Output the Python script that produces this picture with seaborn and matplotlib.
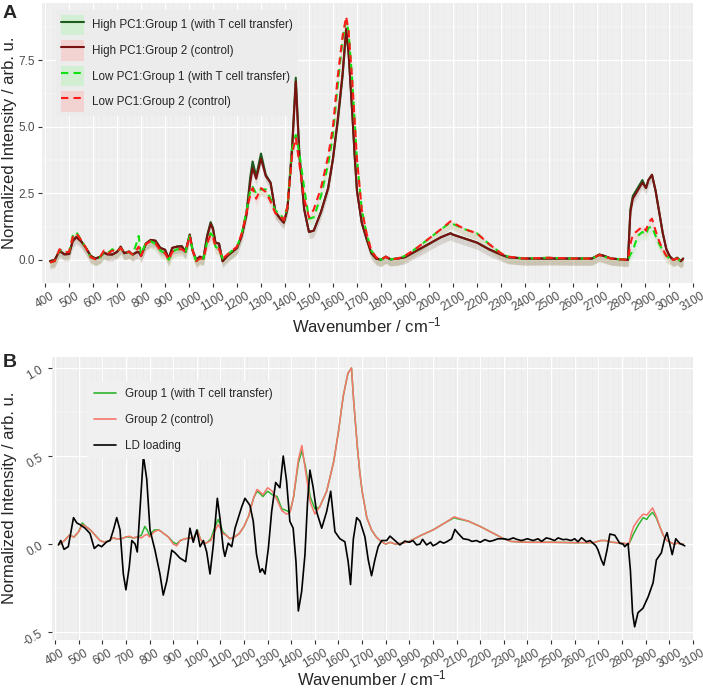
import numpy as np
import pandas as pd
import seaborn as sns
import matplotlib.pyplot as plt
from matplotlib.lines import Line2D
from matplotlib.patches import Patch
from matplotlib.legend_handler import HandlerTuple
from matplotlib.ticker import MultipleLocator, FormatStrFormatter

# wavenumber grid shared by the mean spectra (panel A and the means of panel B)
wn = [
    420, 440, 460, 480, 500, 515, 530, 550, 570, 590,
    610, 630, 645, 660, 680, 700, 715, 730, 750, 765,
    780, 790, 800, 820, 840, 860, 880, 900, 915, 930,
    950, 970, 985, 1003, 1015, 1030, 1045, 1060, 1075, 1090,
    1100, 1110, 1125, 1140, 1160, 1180, 1200, 1220, 1240, 1255,
    1265, 1280, 1300, 1320, 1340, 1360, 1380, 1395, 1410, 1430,
    1445, 1460, 1480, 1500, 1520, 1550, 1580, 1600, 1620, 1640,
    1655, 1665, 1680, 1690, 1700, 1720, 1740, 1760, 1780, 1800,
    1820, 1840, 1870, 1900, 1950, 2000, 2050, 2090, 2100, 2150,
    2200, 2250, 2300, 2330, 2400, 2500, 2600, 2680, 2710, 2730,
    2760, 2800, 2830, 2840, 2850, 2870, 2890, 2905, 2915, 2930,
    2945, 2960, 2975, 2990, 3005, 3020, 3035, 3050, 3060,
]

# panel A - high PC1 score spectra
hi_g1 = [
    -0.05, 0.0, 0.33, 0.22, 0.22, 0.72, 0.87, 0.7, 0.45, 0.15,
    0.05, 0.12, 0.26, 0.22, 0.2, 0.3, 0.48, 0.25, 0.3, 0.2,
    0.28, 0.3, 0.15, 0.62, 0.75, 0.72, 0.45, 0.38, 0.05, 0.45,
    0.5, 0.52, 0.3, 0.95, 0.35, 0.0, 0.12, 0.05, 0.9, 1.42,
    1.2, 0.65, 0.62, -0.05, 0.15, 0.3, 0.45, 0.95, 1.8, 3.1,
    3.7, 3.15, 4.0, 3.2, 2.9, 1.8, 1.55, 1.4, 1.9, 4.3,
    6.85, 4.0, 1.9, 1.05, 1.1, 1.8, 2.7, 3.8, 5.2, 6.9,
    8.6, 7.8, 5.6, 4.0, 2.6, 1.4, 0.8, 0.25, 0.05, 0.0,
    0.12, 0.02, 0.05, 0.1, 0.35, 0.6, 0.85, 1.0, 0.95, 0.8,
    0.65, 0.4, 0.2, 0.1, 0.05, 0.05, 0.05, 0.05, 0.2, 0.15,
    0.05, 0.02, 0.0, 1.9, 2.4, 2.7, 3.0, 2.7, 3.0, 3.2,
    2.6, 1.8, 1.0, 0.4, 0.12, 0.0, 0.08, -0.05, 0.05,
]
hi_g2 = [
    -0.05, 0.0, 0.35, 0.2, 0.22, 0.7, 0.85, 0.7, 0.45, 0.15,
    0.05, 0.12, 0.28, 0.2, 0.2, 0.3, 0.5, 0.25, 0.32, 0.2,
    0.28, 0.3, 0.15, 0.6, 0.75, 0.72, 0.45, 0.38, 0.05, 0.45,
    0.5, 0.5, 0.3, 0.95, 0.35, 0.0, 0.12, 0.05, 0.85, 1.35,
    1.15, 0.65, 0.6, -0.05, 0.15, 0.3, 0.45, 0.9, 1.7, 2.9,
    3.45, 3.05, 3.8, 3.15, 2.9, 1.8, 1.55, 1.4, 1.9, 4.2,
    6.7, 3.9, 1.9, 1.05, 1.1, 1.8, 2.7, 3.8, 5.3, 7.0,
    8.7, 7.8, 5.6, 4.0, 2.6, 1.4, 0.8, 0.25, 0.05, 0.0,
    0.12, 0.02, 0.05, 0.1, 0.35, 0.6, 0.85, 1.0, 0.95, 0.8,
    0.65, 0.4, 0.2, 0.1, 0.05, 0.05, 0.05, 0.05, 0.2, 0.15,
    0.05, 0.02, 0.0, 1.8, 2.3, 2.6, 2.9, 2.7, 3.0, 3.2,
    2.6, 1.8, 1.0, 0.4, 0.12, 0.0, 0.08, -0.05, 0.05,
]
# panel A - low PC1 score spectra
lo_g1 = [
    -0.1, -0.05, 0.38, 0.3, 0.3, 0.9, 1.05, 0.75, 0.45, 0.1,
    0.02, 0.1, 0.3, 0.25, 0.4, 0.3, 0.45, 0.25, 0.3, 0.2,
    0.6, 0.9, 0.2, 0.65, 0.7, 0.6, 0.35, 0.25, 0.0, 0.3,
    0.4, 0.4, 0.3, 0.9, 0.35, -0.05, 0.05, 0.05, 0.65, 1.0,
    0.9, 0.5, 0.4, 0.05, 0.2, 0.35, 0.5, 1.0, 1.85, 2.6,
    2.75, 2.5, 2.65, 2.65, 2.3, 1.85, 1.75, 1.5, 2.0, 4.2,
    4.7, 4.0, 2.7, 1.55, 1.6, 2.4, 3.6, 4.7, 6.6, 8.3,
    9.0, 8.6, 6.8, 5.3, 3.8, 1.9, 1.0, 0.35, 0.1, 0.0,
    0.12, 0.02, 0.05, 0.15, 0.45, 0.8, 1.15, 1.4, 1.35, 1.15,
    1.0, 0.6, 0.25, 0.12, 0.05, 0.08, 0.05, 0.05, 0.18, 0.12,
    0.05, 0.02, 0.0, 0.2, 0.35, 0.9, 1.05, 0.95, 1.2, 1.25,
    0.9, 0.6, 0.35, 0.15, 0.05, 0.0, 0.05, -0.05, 0.0,
]
lo_g2 = [
    -0.1, -0.05, 0.4, 0.28, 0.3, 0.85, 1.0, 0.75, 0.45, 0.1,
    0.02, 0.12, 0.35, 0.22, 0.35, 0.3, 0.45, 0.25, 0.3, 0.2,
    0.35, 0.5, 0.15, 0.6, 0.7, 0.62, 0.35, 0.25, 0.0, 0.3,
    0.4, 0.4, 0.3, 0.9, 0.35, -0.05, 0.05, 0.05, 0.6, 0.95,
    0.85, 0.5, 0.4, 0.05, 0.2, 0.35, 0.5, 1.0, 1.8, 2.45,
    2.7, 2.3, 2.7, 2.55, 2.2, 1.75, 1.65, 1.5, 2.0, 4.0,
    4.6, 3.6, 2.3, 1.6, 1.9, 2.7, 3.9, 5.0, 6.9, 8.4,
    9.15, 8.6, 6.8, 5.3, 3.8, 1.9, 1.0, 0.35, 0.1, 0.0,
    0.12, 0.02, 0.05, 0.15, 0.45, 0.8, 1.15, 1.45, 1.4, 1.15,
    1.0, 0.6, 0.25, 0.12, 0.05, 0.08, 0.05, 0.05, 0.18, 0.12,
    0.05, 0.02, 0.0, 0.6, 0.95, 1.1, 1.25, 1.1, 1.4, 1.55,
    1.1, 0.7, 0.4, 0.15, 0.05, 0.0, 0.05, -0.05, 0.0,
]

# panel B - normalized group means
g1_b = [
    0.0, 0.02, 0.05, 0.04, 0.07, 0.12, 0.10, 0.08, 0.05, 0.02,
    0.01, 0.02, 0.035, 0.03, 0.03, 0.04, 0.04, 0.035, 0.04, 0.05,
    0.1, 0.08, 0.05, 0.08, 0.08, 0.06, 0.04, 0.01, 0.0, 0.02,
    0.03, 0.035, 0.03, 0.08, 0.03, 0.0, 0.01, 0.03, 0.09, 0.14,
    0.11, 0.07, 0.05, 0.03, 0.04, 0.06, 0.1, 0.16, 0.26, 0.3,
    0.29, 0.27, 0.30, 0.28, 0.27, 0.2, 0.19, 0.18, 0.27, 0.46,
    0.53, 0.44, 0.27, 0.2, 0.21, 0.3, 0.47, 0.64, 0.84, 0.97,
    1.0, 0.8, 0.55, 0.41, 0.3, 0.15, 0.08, 0.04, 0.015, 0.0,
    0.01, 0.0, 0.005, 0.015, 0.05, 0.08, 0.12, 0.15, 0.145, 0.13,
    0.1, 0.065, 0.03, 0.015, 0.01, 0.01, 0.008, 0.008, 0.02, 0.02,
    0.01, 0.005, 0.0, 0.03, 0.06, 0.11, 0.15, 0.14, 0.16, 0.18,
    0.15, 0.1, 0.05, 0.02, 0.01, 0.0, 0.005, 0.0, 0.0,
]
g2_b = [
    0.0, 0.02, 0.05, 0.04, 0.07, 0.11, 0.10, 0.08, 0.05, 0.02,
    0.01, 0.02, 0.035, 0.03, 0.03, 0.04, 0.045, 0.035, 0.04, 0.035,
    0.05, 0.055, 0.04, 0.07, 0.08, 0.06, 0.04, 0.0, -0.01, 0.02,
    0.03, 0.035, 0.03, 0.075, 0.03, 0.0, 0.01, 0.02, 0.07, 0.11,
    0.09, 0.06, 0.05, 0.03, 0.04, 0.06, 0.1, 0.16, 0.26, 0.31,
    0.30, 0.28, 0.32, 0.30, 0.25, 0.19, 0.17, 0.18, 0.27, 0.48,
    0.56, 0.42, 0.24, 0.17, 0.21, 0.3, 0.47, 0.64, 0.84, 0.97,
    1.0, 0.8, 0.55, 0.41, 0.3, 0.15, 0.08, 0.04, 0.015, 0.0,
    0.01, 0.0, 0.005, 0.015, 0.05, 0.08, 0.12, 0.155, 0.15, 0.13,
    0.1, 0.065, 0.03, 0.015, 0.01, 0.01, 0.008, 0.008, 0.02, 0.02,
    0.01, 0.005, 0.0, 0.06, 0.1, 0.14, 0.17, 0.165, 0.18, 0.205,
    0.16, 0.1, 0.05, 0.02, 0.01, 0.0, 0.005, 0.0, 0.0,
]

# panel B - LD loading
wn_ld = [
    414, 424, 438, 456, 478, 492, 506, 527, 548, 566,
    583, 597, 619, 633, 647, 661, 675, 689, 700, 714,
    725, 739, 748, 760, 774, 788, 802, 823, 844, 858,
    873, 894, 908, 929, 953, 971, 985, 1000, 1014, 1028,
    1042, 1056, 1070, 1087, 1098, 1112, 1119, 1133, 1148, 1162,
    1176, 1190, 1204, 1225, 1239, 1253, 1268, 1277, 1289, 1303,
    1317, 1334, 1352, 1366, 1380, 1394, 1408, 1420, 1430, 1444,
    1458, 1469, 1479, 1493, 1507, 1529, 1550, 1567, 1585, 1606,
    1627, 1641, 1651, 1663, 1677, 1691, 1712, 1726, 1740, 1754,
    1768, 1783, 1804, 1818, 1839, 1860, 1881, 1900, 1915, 1931,
    1945, 1956, 1973, 1990, 2000, 2015, 2030, 2045, 2058, 2079,
    2093, 2107, 2128, 2150, 2165, 2184, 2200, 2220, 2240, 2255,
    2275, 2297, 2320, 2340, 2354, 2375, 2400, 2424, 2445, 2460,
    2480, 2495, 2515, 2530, 2550, 2565, 2585, 2600, 2614, 2629,
    2650, 2665, 2678, 2690, 2699, 2713, 2723, 2737, 2749, 2770,
    2791, 2805, 2812, 2826, 2836, 2845, 2854, 2868, 2889, 2911,
    2932, 2946, 2967, 2981, 2991, 3002, 3013, 3028, 3045, 3066,
]
ld = [
    -0.005, 0.02, -0.03, -0.015, 0.15, 0.12, 0.11, 0.09, 0.06, -0.025,
    -0.005, -0.015, 0.013, 0.02, 0.08, 0.15, 0.08, -0.17, -0.26, -0.13,
    0.02, 0.0, -0.045, 0.21, 0.5, 0.37, 0.08, -0.035, -0.17, -0.29,
    -0.21, -0.035, -0.05, -0.08, -0.10, 0.09, 0.01, 0.08, -0.015, 0.02,
    -0.045, -0.17, -0.005, 0.26, 0.15, -0.025, -0.07, 0.005, -0.015, 0.09,
    0.15, 0.21, 0.26, 0.22, 0.13, -0.06, -0.16, -0.14, -0.17, -0.025,
    0.185, 0.35, 0.32, 0.5, 0.36, 0.13, 0.09, -0.10, -0.38, -0.27,
    -0.06, 0.24, 0.42, 0.32, 0.185, 0.09, 0.185, 0.30, 0.07, 0.03,
    0.013, -0.10, -0.23, 0.03, 0.15, 0.13, 0.04, -0.09, -0.18, -0.09,
    -0.015, 0.02, 0.02, 0.045, 0.02, -0.005, 0.017, 0.01, 0.02, -0.005,
    0.0, 0.027, -0.005, 0.01, -0.01, 0.0, 0.015, 0.005, 0.013, 0.03,
    0.083, 0.06, 0.03, 0.025, 0.015, 0.02, 0.01, 0.025, 0.015, 0.02,
    0.03, 0.03, 0.025, 0.035, 0.027, 0.02, 0.03, 0.02, 0.03, 0.015,
    0.035, 0.03, 0.02, 0.035, 0.025, 0.027, 0.02, 0.03, 0.013, 0.036,
    0.013, 0.02, 0.004, -0.01, -0.034, -0.09, -0.12, -0.034, 0.057, 0.05,
    0.004, 0.0, -0.015, 0.004, -0.15, -0.39, -0.47, -0.39, -0.365, -0.30,
    -0.22, -0.09, -0.05, 0.03, 0.065, 0.004, -0.06, 0.03, 0.004, -0.01,
]

labels_a = ["High PC1:Group 1 (with T cell transfer)", "High PC1:Group 2 (control)",
            "Low PC1:Group 1 (with T cell transfer)", "Low PC1:Group 2 (control)"]
labels_b = ["Group 1 (with T cell transfer)", "Group 2 (control)", "LD loading"]

sns.set_theme(style="darkgrid")
plt.rcParams['font.family'] = ['Liberation Sans', 'DejaVu Sans']
plt.rcParams['mathtext.fontset'] = 'custom'
plt.rcParams['mathtext.rm'] = 'Liberation Sans'
plt.rcParams['mathtext.default'] = 'regular'
plt.rcParams['axes.unicode_minus'] = False

fig = plt.figure(figsize=(7.03, 6.92), dpi=100)
ax_a = fig.add_axes([42 / 703, 1 - 283 / 692, 651 / 703, 280 / 692])
ax_b = fig.add_axes([52 / 703, 1 - 640 / 692, 641 / 703, 283 / 692])


def style_axes(ax):
    ax.set_facecolor('#EBEBEB')
    ax.set_xlim(387, 3101)
    ax.xaxis.set_major_locator(MultipleLocator(100))
    ax.xaxis.set_minor_locator(MultipleLocator(10))
    ax.yaxis.set_major_formatter(FormatStrFormatter('%.1f'))
    ax.grid(which='major', color='white', lw=0.9)
    ax.grid(which='minor', color='white', lw=0.35)
    for s in ax.spines.values():
        s.set_visible(False)
    ax.tick_params(which='major', length=3, width=0.8, color='#333333',
                   labelsize=8.5, labelcolor='#4D4D4D', pad=2, bottom=True, left=True)
    ax.tick_params(which='minor', length=0)
    for t in ax.get_xticklabels():
        t.set_rotation(30)
        t.set_ha('center')
    ax.set_xlabel('')
    ax.set_ylabel('')


# ---- panel A ----
cols_a = ['#1E5B1E', '#7A1212', '#10E010', '#FF1A1A']
styles_a = ['-', '-', (0, (3.5, 2.5)), (0, (3.5, 2.5))]
series_a = [hi_g1, hi_g2, lo_g1, lo_g2]
for vals, c in zip(series_a, cols_a):
    v = np.array(vals)
    ax_a.fill_between(wn, v - 0.25, v + 0.06, color=c, alpha=0.08, lw=0)
for vals, c, ls in zip(series_a, cols_a, styles_a):
    sns.lineplot(x=wn, y=vals, ax=ax_a, color=c, lw=1.5, linestyle=ls,
                 sort=False, errorbar=None, legend=False)
ax_a.set_ylim(-0.87, 9.66)
ax_a.yaxis.set_major_locator(MultipleLocator(2.5))
ax_a.yaxis.set_minor_locator(MultipleLocator(1.25))
style_axes(ax_a)

fills_a = ['#D3EFD3', '#F3D2D2', '#D3EFD3', '#F3D2D2']
handles_a = [(Patch(facecolor=f, edgecolor='none'), Line2D([], [], color=c, lw=1.5, ls=ls))
             for f, c, ls in zip(fills_a, cols_a, styles_a)]
leg_a = ax_a.legend(handles_a, labels_a, handler_map={tuple: HandlerTuple(ndivide=1)},
                    loc='upper left', bbox_to_anchor=(0.022, 0.975), borderaxespad=0,
                    fontsize=8.4, frameon=True, facecolor='#ECECEC', edgecolor='none',
                    framealpha=1, handlelength=2.0, handleheight=2.3, labelspacing=0.45,
                    handletextpad=0.7, borderpad=0.4)
leg_a.set_zorder(1.5)  # keep the 1445 peak visible above the legend box

# ---- panel B ----
cols_b = ['#2DB52D', '#F8766D', 'black']
sns.lineplot(x=wn, y=g1_b, ax=ax_b, color=cols_b[0], lw=1.1, sort=False, errorbar=None)
sns.lineplot(x=wn, y=g2_b, ax=ax_b, color=cols_b[1], lw=1.1, sort=False, errorbar=None)
sns.lineplot(x=wn_ld, y=ld, ax=ax_b, color=cols_b[2], lw=1.2, sort=False, errorbar=None)
ax_b.set_ylim(-0.545, 1.0625)
ax_b.yaxis.set_major_locator(MultipleLocator(0.5))
ax_b.yaxis.set_minor_locator(MultipleLocator(0.25))
style_axes(ax_b)
for t in ax_b.get_yticklabels():
    t.set_rotation(30)

handles_b = [Line2D([], [], color=c, lw=1.2) for c in cols_b]
ax_b.legend(handles_b, labels_b, loc='upper left', bbox_to_anchor=(0.055, 0.915),
            borderaxespad=0, fontsize=8.4, frameon=True, facecolor='#F0F0F0',
            edgecolor='none', framealpha=1, handlelength=1.9, labelspacing=1.2,
            handletextpad=0.7, borderpad=0.6)

# ---- labels ----
fig.text(3 / 703, 1 - 14 / 692, "A", fontsize=14, fontweight='bold', va='center')
fig.text(3 / 703, 1 - 363 / 692, "B", fontsize=14, fontweight='bold', va='center')
fig.text(367 / 703, 1 - 325 / 692, "Wavenumber / cm$^{-1}$", fontsize=12, ha='center', va='center')
fig.text(372 / 703, 1 - 678 / 692, "Wavenumber / cm$^{-1}$", fontsize=12, ha='center', va='center')
fig.text(10 / 703, 1 - 143 / 692, "Normalized Intensity / arb. u.", fontsize=12,
         rotation=90, ha='center', va='center')
fig.text(10 / 703, 1 - 498 / 692, "Normalized Intensity / arb. u.", fontsize=12,
         rotation=90, ha='center', va='center')

fig.savefig("out.png", dpi=100)
